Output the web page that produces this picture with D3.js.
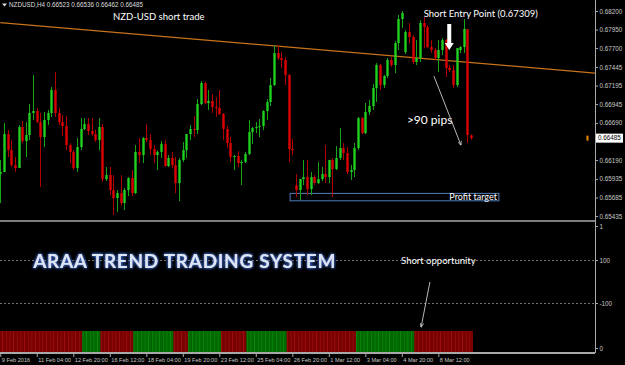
<!DOCTYPE html>
<html>
<head>
<meta charset="utf-8">
<script src="https://cdn.jsdelivr.net/npm/d3@7"></script>
<style>
html, body { margin: 0; padding: 0; background: #000; }
svg { display: block; }
.axis text { fill: #c8c8c8; font-family: "Liberation Sans", Arial, sans-serif; font-size: 6.3px; }
.axis.time text { font-size: 5.6px; }
.axis line { stroke: #a8a8a8; }
.axis path { display: none; }
.note { fill: #fff; font-family: Lato, "Open Sans", sans-serif; }
</style>
</head>
<body>
<svg id="chart" width="625" height="365"></svg>
<script>
// NZDUSD H4, 130 bars
var opens = [0.66001,0.66028,0.66540,0.66324,0.66122,0.66082,0.66635,0.66446,0.66527,0.66824,
  0.66851,0.66702,0.66500,0.66729,0.66824,0.67134,0.66824,0.66702,0.66648,0.66392,
  0.66298,0.66082,0.66365,0.66608,0.66675,0.66581,0.66540,0.66459,0.66635,0.65933,
  0.65987,0.65785,0.65677,0.65744,0.65610,0.65785,0.65947,0.65744,0.66298,0.66257,
  0.66486,0.66459,0.66338,0.66257,0.66298,0.66405,0.66109,0.66217,0.66122,0.65879,
  0.66190,0.66324,0.66540,0.66608,0.66594,0.66945,0.67228,0.66959,0.66986,0.66905,
  0.66891,0.66810,0.66608,0.66419,0.66230,0.66244,0.66149,0.66163,0.66271,0.66567,
  0.66621,0.66635,0.66648,0.66851,0.66972,0.67201,0.67633,0.67566,0.67539,0.67336,
  0.66338,0.65852,0.65785,0.65933,0.65960,0.65798,0.65960,0.65879,0.65933,0.66001,
  0.65960,0.66190,0.66068,0.66217,0.66351,0.66284,0.66028,0.66055,0.66351,0.66756,
  0.66554,0.66837,0.66918,0.67161,0.67471,0.67201,0.67323,0.67539,0.67471,0.67768,
  0.68092,0.67647,0.67916,0.67849,0.67512,0.67566,0.68038,0.67984,0.67714,0.67673,
  0.67566,0.67673,0.67808,0.67431,0.67404,0.67201,0.67673,0.67714,0.67957,0.66523];
var highs = [0.66190,0.66689,0.66594,0.66459,0.66230,0.66662,0.66716,0.66702,0.66945,0.67336,
  0.66891,0.66824,0.66837,0.66864,0.67174,0.67377,0.66891,0.66797,0.66783,0.66419,
  0.66324,0.66486,0.66756,0.66756,0.66756,0.66756,0.66594,0.66756,0.66675,0.66095,
  0.66095,0.65987,0.65785,0.65987,0.65812,0.65960,0.66055,0.66392,0.66486,0.66500,
  0.66675,0.66540,0.66392,0.66324,0.66446,0.66459,0.66257,0.66298,0.66230,0.66217,
  0.66432,0.66540,0.66662,0.66783,0.67012,0.67255,0.67242,0.67134,0.67080,0.67039,
  0.67134,0.66824,0.66648,0.66500,0.66257,0.66311,0.66190,0.66298,0.66729,0.66635,
  0.66702,0.66743,0.66864,0.67012,0.67296,0.67741,0.67741,0.67647,0.67579,0.67350,
  0.66473,0.66001,0.65933,0.66190,0.66190,0.66028,0.65987,0.66163,0.66095,0.66392,
  0.66190,0.66217,0.66378,0.66621,0.66419,0.66365,0.66122,0.66419,0.66770,0.66770,
  0.66959,0.66999,0.67215,0.67498,0.67485,0.67336,0.67566,0.67579,0.67795,0.68146,
  0.68200,0.67943,0.68038,0.67876,0.67808,0.68078,0.68119,0.68011,0.67808,0.67700,
  0.67808,0.67835,0.67822,0.67471,0.67471,0.67700,0.67727,0.68092,0.67957,0.66536];
var lows = [0.65610,0.66028,0.66230,0.66095,0.66028,0.66082,0.66419,0.66230,0.66459,0.66729,
  0.66689,0.65825,0.66365,0.66662,0.66770,0.66770,0.66662,0.66513,0.66324,0.66149,
  0.66055,0.66028,0.66324,0.66594,0.66527,0.66513,0.66432,0.66324,0.65893,0.65906,
  0.65717,0.65448,0.65488,0.65569,0.65515,0.65704,0.65704,0.65731,0.66149,0.66149,
  0.66432,0.66257,0.66149,0.66055,0.66217,0.66095,0.66095,0.66082,0.65744,0.65637,
  0.66163,0.66217,0.66459,0.66500,0.66540,0.66932,0.66945,0.66864,0.66824,0.66770,
  0.66797,0.66459,0.66351,0.66163,0.66055,0.66095,0.65852,0.66149,0.66257,0.66405,
  0.66554,0.66500,0.66594,0.66729,0.66918,0.67188,0.67539,0.67431,0.67201,0.66163,
  0.66257,0.65690,0.65650,0.65852,0.65717,0.65717,0.65852,0.65866,0.65906,0.65879,
  0.65879,0.65690,0.66055,0.66190,0.66190,0.66001,0.65920,0.65960,0.66324,0.66540,
  0.66540,0.66797,0.66864,0.66972,0.67134,0.67161,0.67296,0.67444,0.67363,0.67673,
  0.67970,0.67620,0.67768,0.67485,0.67471,0.67512,0.67700,0.67700,0.67633,0.67539,
  0.67377,0.67606,0.67309,0.67377,0.67161,0.67174,0.67633,0.67633,0.66419,0.66462];
var closes = [0.66028,0.66540,0.66324,0.66122,0.66082,0.66635,0.66446,0.66527,0.66824,0.66851,
  0.66702,0.66500,0.66729,0.66824,0.67134,0.66824,0.66702,0.66648,0.66392,0.66298,
  0.66082,0.66365,0.66608,0.66675,0.66581,0.66540,0.66459,0.66635,0.65933,0.65987,
  0.65785,0.65677,0.65744,0.65610,0.65785,0.65947,0.65744,0.66298,0.66257,0.66486,
  0.66459,0.66338,0.66257,0.66298,0.66405,0.66109,0.66217,0.66122,0.65879,0.66190,
  0.66324,0.66540,0.66608,0.66594,0.66945,0.67228,0.66959,0.66986,0.66905,0.66891,
  0.66810,0.66608,0.66419,0.66230,0.66244,0.66149,0.66163,0.66271,0.66567,0.66621,
  0.66635,0.66648,0.66851,0.66972,0.67201,0.67633,0.67566,0.67539,0.67336,0.66338,
  0.66324,0.65785,0.65933,0.65960,0.65798,0.65960,0.65879,0.65933,0.66001,0.65960,
  0.66190,0.66068,0.66217,0.66351,0.66284,0.66028,0.66055,0.66351,0.66756,0.66554,
  0.66837,0.66918,0.67161,0.67471,0.67201,0.67323,0.67539,0.67471,0.67768,0.68092,
  0.68173,0.67916,0.67849,0.67512,0.67566,0.68038,0.67984,0.67714,0.67673,0.67566,
  0.67673,0.67808,0.67431,0.67404,0.67201,0.67700,0.67714,0.67957,0.66527,0.66485];

// trend indicator: 1 = bull, -1 = bear
var signal = [-1,-1,-1,-1,-1,-1,-1,-1,-1,-1,-1,-1,-1,-1,-1,-1,-1,-1,-1,-1,-1,-1,-1,
  1,1,1,1,1,
  -1,-1,-1,-1,-1,-1,-1,-1,-1,
  1,1,1,1,1,1,1,1,1,1,1,
  -1,-1,-1,-1,
  1,1,1,1,1,1,1,1,1,
  -1,-1,-1,-1,-1,-1,-1,
  1,1,1,1,1,1,1,1,1,1,1,
  -1,-1,-1,-1,-1,-1,-1,-1,-1,-1,-1,-1,-1,-1,-1,-1,-1,-1,-1,
  1,1,1,1,1,1,1,1,1,1,1,1,1,1,1,1,
  -1,-1,-1,-1,-1,-1,-1,-1,-1,-1,-1,-1,-1,-1,-1,-1];

// 0.66440 sits under the bid label, so it is left out
var priceTicks = [0.68200,0.67950,0.67700,0.67445,0.67195,0.66945,0.66690,0.66190,0.65935,0.65685,0.65435];
var timeBars = [0,10,20,30,40,50,60,70,80,90,100,110,120];
var timeLabels = ["9 Feb 2016","11 Feb 04:00","12 Feb 20:00","16 Feb 12:00","18 Feb 04:00","19 Feb 20:00",
  "23 Feb 12:00","25 Feb 04:00","26 Feb 20:00","1 Mar 12:00","3 Mar 04:00","4 Mar 20:00","8 Mar 12:00"];
var indLabels = ["1","100","-100","0"];
var trendLine = [{bar: 0, price: 0.68042}, {bar: 163, price: 0.67363}];
var profitBox = {from: 79.4, to: 136.6, top: 0.65740, bottom: 0.65640};
var lastQuote = {open: 0.66523, high: 0.66536, low: 0.66462, close: 0.66485};

var W = 625, H = 365,
    axisX = 595,
    priceBottom = 221,
    barTop = 331, barBottom = 352,
    timeY = 353;

var svg = d3.select("#chart");
svg.append("rect").attr("width", W).attr("height", H).attr("fill", "#000");

var defs = svg.append("defs");
defs.append("clipPath").attr("id", "pclip")
    .append("rect").attr("x", 0).attr("y", 0).attr("width", axisX).attr("height", priceBottom);
var glow = defs.append("filter").attr("id", "glow")
    .attr("x", "-10%").attr("y", "-40%").attr("width", "120%").attr("height", "180%");
glow.append("feGaussianBlur").attr("in", "SourceAlpha").attr("stdDeviation", 1.6).attr("result", "b");
glow.append("feFlood").attr("flood-color", "#3d6bd0").attr("result", "c");
glow.append("feComposite").attr("in", "c").attr("in2", "b").attr("operator", "in").attr("result", "g");
var gm = glow.append("feMerge");
gm.append("feMergeNode").attr("in", "g");
gm.append("feMergeNode").attr("in", "g");
gm.append("feMergeNode").attr("in", "SourceGraphic");
defs.append("marker").attr("id", "ahead").attr("viewBox", "0 0 10 10")
    .attr("refX", 9).attr("refY", 5).attr("markerWidth", 5).attr("markerHeight", 5)
    .attr("orient", "auto")
    .append("path").attr("d", "M0,1L10,5L0,9").attr("fill", "none").attr("stroke", "#ddd").attr("stroke-width", 1.5);

var x = d3.scaleLinear().domain([0, 129]).range([0.3, 471.15]);
var y = d3.scaleLinear().domain([0.65435, 0.68200]).range([216, 11]);
var step = x(1) - x(0);

var bars = d3.range(opens.length).map(function (i) {
    return {i: i, o: opens[i], h: highs[i], l: lows[i], c: closes[i], s: signal[i]};
});

// price panel
var pg = svg.append("g").attr("clip-path", "url(#pclip)");

pg.append("rect")
    .attr("x", x(profitBox.from))
    .attr("y", y(profitBox.top))
    .attr("width", x(profitBox.to) - x(profitBox.from))
    .attr("height", y(profitBox.bottom) - y(profitBox.top))
    .attr("fill", "none")
    .attr("stroke", "#4f7fb5")
    .attr("stroke-width", 1);

pg.append("line")
    .attr("x1", x(trendLine[0].bar)).attr("y1", y(trendLine[0].price))
    .attr("x2", x(trendLine[1].bar)).attr("y2", y(trendLine[1].price))
    .attr("stroke", "#c8731a").attr("stroke-width", 1.3);

var candle = pg.selectAll(".candle").data(bars).enter().append("g").attr("class", "candle");
candle.append("line")
    .attr("x1", function (d) { return Math.round(x(d.i)) + 0.5; })
    .attr("x2", function (d) { return Math.round(x(d.i)) + 0.5; })
    .attr("y1", function (d) { return y(d.h); })
    .attr("y2", function (d) { return y(d.l); })
    .attr("stroke", function (d) { return d.c >= d.o ? "#16a516" : "#b00000"; })
    .attr("stroke-width", 1);
candle.append("rect")
    .attr("x", function (d) { return Math.round(x(d.i)) - 0.7; })
    .attr("width", 2.4)
    .attr("y", function (d) { return y(Math.max(d.o, d.c)); })
    .attr("height", function (d) { return Math.max(1, Math.abs(y(d.o) - y(d.c))); })
    .attr("fill", function (d) { return d.c >= d.o ? "#1fd01f" : "#dc0000"; });

// current bid marker
svg.append("rect").attr("x", 586.5).attr("y", y(lastQuote.close) - 2.5)
    .attr("width", 2).attr("height", 5).attr("fill", "#f08a00");

// annotations in price panel
svg.append("text").attr("class", "note")
    .attr("x", x(30.9)).attr("y", y(0.68078))
    .style("font-size", "9.5px")
    .text("NZD-USD short trade");
svg.append("text").attr("class", "note")
    .attr("x", x(116)).attr("y", y(0.68119))
    .style("font-size", "9.5px")
    .text("Short  Entry Point (0.67309)");
svg.append("text").attr("class", "note")
    .attr("x", x(111.4)).attr("y", y(0.66675))
    .style("font-size", "12px")
    .text(">90 pips");
svg.append("text").attr("class", "note")
    .attr("x", x(profitBox.to) - 2).attr("y", y(profitBox.bottom) - 1)
    .attr("text-anchor", "end")
    .style("font-size", "9px")
    .text("Profit target");

// white entry arrow
var ax = x(123), ay1 = y(0.68024), ay2 = y(0.67673);
svg.append("path")
    .attr("d", "M" + (ax - 2) + "," + ay1 + "H" + (ax + 2) + "V" + (ay2 - 7) +
        "H" + (ax + 4.5) + "L" + ax + "," + ay2 + "L" + (ax - 4.5) + "," + (ay2 - 7) + "H" + (ax - 2) + "Z")
    .attr("fill", "#fff");

// thin pips arrow
svg.append("line")
    .attr("x1", x(118.8)).attr("y1", y(0.67323))
    .attr("x2", x(126.2)).attr("y2", y(0.66392))
    .attr("stroke", "#ccc").attr("stroke-width", 0.9)
    .attr("marker-end", "url(#ahead)");

// panel separators
svg.append("line").attr("x1", 0).attr("x2", axisX).attr("y1", priceBottom).attr("y2", priceBottom)
    .attr("stroke", "#a8a8a8").attr("stroke-width", 1.5);
svg.append("line").attr("x1", 0).attr("x2", axisX).attr("y1", timeY).attr("y2", timeY)
    .attr("stroke", "#a8a8a8").attr("stroke-width", 2);
svg.append("line").attr("x1", axisX + 0.5).attr("x2", axisX + 0.5).attr("y1", 0).attr("y2", timeY)
    .attr("stroke", "#a8a8a8").attr("stroke-width", 1);

// indicator panel
var ind = d3.scaleOrdinal().domain(indLabels).range([226, 260, 303, 348]);
[ind("100"), ind("-100")].forEach(function (ly) {
    svg.append("line").attr("x1", 0).attr("x2", axisX).attr("y1", ly + 0.5).attr("y2", ly + 0.5)
        .attr("stroke", "#909090").attr("stroke-width", 0.8).attr("stroke-dasharray", "2,2");
});

var ig = svg.append("g");
ig.selectAll(".ib").data(bars).enter().append("rect")
    .attr("x", function (d) { return x(d.i) - step / 2; })
    .attr("y", barTop)
    .attr("width", step)
    .attr("height", barBottom - barTop)
    .attr("fill", function (d) { return d.s > 0 ? "#006a00" : "#7a0000"; });
ig.selectAll(".is").data(bars).enter().append("rect")
    .attr("x", function (d) { return x(d.i) - step / 2; })
    .attr("y", barTop)
    .attr("width", 0.9)
    .attr("height", barBottom - barTop)
    .attr("fill", function (d) { return d.s > 0 ? "#0d8a0d" : "#a01010"; });

svg.append("text")
    .attr("x", x(9)).attr("y", 268)
    .attr("filter", "url(#glow)")
    .style("font-family", "Lato, sans-serif")
    .style("font-weight", 700)
    .style("font-size", "19px")
    .style("letter-spacing", "0.7px")
    .attr("fill", "#dde4f2")
    .text("ARAA TREND TRADING SYSTEM");
svg.append("text").attr("class", "note")
    .attr("x", x(109.8)).attr("y", 264)
    .style("font-size", "9.5px")
    .text("Short opportunity");
svg.append("line")
    .attr("x1", x(117.7)).attr("y1", 282)
    .attr("x2", x(115.3)).attr("y2", 327)
    .attr("stroke", "#ccc").attr("stroke-width", 0.9)
    .attr("marker-end", "url(#ahead)");

// axes
svg.append("g").attr("class", "axis")
    .attr("transform", "translate(" + axisX + ",0)")
    .call(d3.axisRight(y).tickValues(priceTicks).tickSize(3).tickPadding(1.5)
        .tickFormat(d3.format(".5f")));
svg.append("g").attr("class", "axis")
    .attr("transform", "translate(" + axisX + ",0)")
    .call(d3.axisRight(ind).tickSize(3).tickPadding(1.5));
var tx = svg.append("g").attr("class", "axis time")
    .attr("transform", "translate(0," + timeY + ")")
    .call(d3.axisBottom(x).tickValues(timeBars).tickSize(4).tickPadding(1.5)
        .tickFormat(function (d, i) { return timeLabels[i]; }));
tx.selectAll("text").attr("text-anchor", "start").attr("dx", "1px");

// current price label
svg.append("rect").attr("x", axisX + 1).attr("y", y(lastQuote.close) - 4.5)
    .attr("width", 27).attr("height", 9).attr("fill", "#fff");
svg.append("text").attr("x", axisX + 3).attr("y", y(lastQuote.close) + 2.3)
    .style("font-family", "Liberation Sans, Arial, sans-serif").style("font-size", "6.3px")
    .attr("fill", "#000").text(d3.format(".5f")(lastQuote.close));

// header
svg.append("path").attr("d", "M2,3.5H7L4.5,6.5Z").attr("fill", "#ddd");
svg.append("text").attr("x", 9).attr("y", 7)
    .style("font-family", "Liberation Sans, Arial, sans-serif").style("font-size", "6.3px")
    .attr("fill", "#ddd")
    .text("NZDUSD,H4  " + [lastQuote.open, lastQuote.high, lastQuote.low, lastQuote.close]
        .map(d3.format(".5f")).join(" "));
</script>
</body>
</html>
